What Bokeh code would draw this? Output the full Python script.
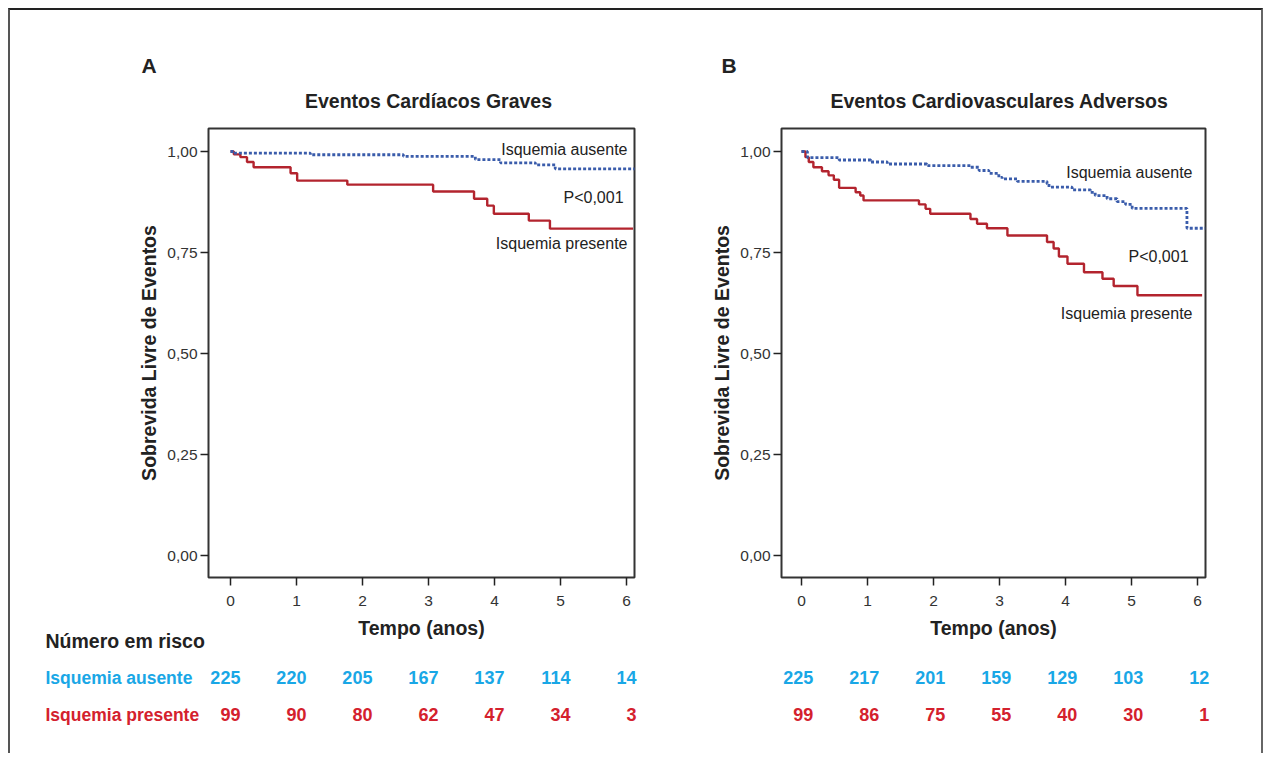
from bokeh.plotting import figure
from bokeh.layouts import row, column
from bokeh.models import (Label, ColumnDataSource, FixedTicker,
                          CustomJSTickFormatter, Range1d)
from bokeh.core.properties import value
from bokeh.embed import file_html
from bokeh.resources import INLINE

# ---------------- data ----------------
years = [0, 1, 2, 3, 4, 5, 6]

# Panel A - Eventos Cardiacos Graves
a_aus_t = [0, 0.05, 1.21, 2.62, 3.71, 4.09, 4.62, 4.92, 6.14]
a_aus_s = [1.0, 0.996, 0.992, 0.988, 0.980, 0.972, 0.967, 0.957, 0.957]
a_pres_t = [0, 0.05, 0.15, 0.25, 0.35, 0.91, 1.01, 1.77, 3.07, 3.69, 3.89,
            3.99, 4.52, 4.84, 6.10]
a_pres_s = [1.0, 0.993, 0.986, 0.974, 0.961, 0.946, 0.928, 0.918, 0.901,
            0.883, 0.866, 0.846, 0.829, 0.809, 0.809]

# Panel B - Eventos Cardiovasculares Adversos
b_aus_t = [0, 0.09, 0.57, 1.05, 1.30, 1.90, 2.56, 2.69, 2.84, 2.99, 3.04,
           3.27, 3.72, 3.75, 4.10, 4.38, 4.45, 4.63, 4.78, 4.91, 5.01, 5.84,
           6.12]
b_aus_s = [1.0, 0.985, 0.979, 0.974, 0.969, 0.965, 0.961, 0.953, 0.946,
           0.936, 0.932, 0.926, 0.920, 0.912, 0.905, 0.899, 0.891, 0.883,
           0.876, 0.869, 0.859, 0.810, 0.810]
b_pres_t = [0, 0.06, 0.11, 0.18, 0.31, 0.41, 0.49, 0.57, 0.82, 0.89, 0.94,
            1.78, 1.88, 1.95, 2.56, 2.66, 2.81, 3.12, 3.72, 3.82, 3.90, 4.03,
            4.28, 4.56, 4.73, 5.09, 6.07]
b_pres_s = [1.0, 0.986, 0.974, 0.961, 0.951, 0.941, 0.930, 0.910, 0.899,
            0.891, 0.879, 0.869, 0.858, 0.846, 0.833, 0.821, 0.810, 0.792,
            0.776, 0.760, 0.740, 0.722, 0.701, 0.685, 0.667, 0.644, 0.644]

# Numero em risco
risk_a_aus = [225, 220, 205, 167, 137, 114, 14]
risk_a_pres = [99, 90, 80, 62, 47, 34, 3]
risk_b_aus = [225, 217, 201, 159, 129, 103, 12]
risk_b_pres = [99, 86, 75, 55, 40, 30, 1]

y_ticks = [0, 0.25, 0.5, 0.75, 1.0]

# ---------------- style ----------------
BLUE_LINE = "#3a5cab"
RED_LINE = "#b3242e"
BLUE_TXT = "#19a7e6"
RED_TXT = "#d4212d"
INK = "#222222"
FONT = "Liberation Sans"

PX_YEAR = 66.0      # px per year
PX_S = 404.0        # px per unit survival
ORIGIN = 10         # page offset of content (margin + border)
HEAD_END = 118      # page y where the plot figures start
PLOT_END = 644      # page y where the plot figures end
TAB_START = 630     # page y where the risk table starts (overlaps)
BOTTOM = 753
ROW0 = 640          # page y of the first table row
ROW_PX = 37.0       # px between table rows


def s_at(py):
    # survival value at a vertical page position (S = 1 at y = 151)
    return 1.0 - (py - 151.0) / PX_S


def year_range(width, x0_page, tick0_page):
    xs = -(tick0_page - x0_page) / PX_YEAR
    return Range1d(xs, xs + width / PX_YEAR)


def blank(fig):
    fig.axis.visible = False
    fig.grid.visible = False
    fig.outline_line_color = None
    fig.background_fill_color = None
    fig.border_fill_color = None


def make_header(width, x0_page, tick0_page, letter, title, letter_x):
    h = figure(width=width, height=HEAD_END - ORIGIN,
               x_range=year_range(width, x0_page, tick0_page),
               y_range=Range1d(HEAD_END, ORIGIN),
               output_backend="svg", toolbar_location=None, min_border=0)
    blank(h)
    h.text(x=[letter_x], y=[65], text=[letter], text_font=value(FONT),
           text_font_size="21px", text_font_style="bold", text_color=INK,
           text_align="left", text_baseline="middle")
    h.text(x=[3], y=[100], text=[title], text_font=value(FONT),
           text_font_size="19.5px", text_font_style="bold", text_color=INK,
           text_align="center", text_baseline="middle")
    return h


def make_panel(aus_t, aus_s, pres_t, pres_s, width, left, right, left_gap,
               ann_x, ann_y):
    height = PLOT_END - HEAD_END
    top = 128 - HEAD_END
    p = figure(width=width, height=height,
               x_range=Range1d(-left_gap / PX_YEAR, 6 + 8.0 / PX_YEAR),
               y_range=Range1d(s_at(577), s_at(128)),
               output_backend="svg", toolbar_location=None,
               min_border_left=left, min_border_right=right,
               min_border_top=top, min_border_bottom=height - top - 449)
    p.background_fill_color = "white"
    p.border_fill_color = "white"
    p.outline_line_color = "#333333"
    p.outline_line_width = 2
    p.grid.visible = False

    for ax in (p.xaxis, p.yaxis):
        ax.axis_line_color = None
        ax.major_tick_line_color = INK
        ax.major_tick_line_width = 1.5
        ax.major_tick_out = 8
        ax.major_tick_in = 0
        ax.minor_tick_line_color = None
        ax.major_label_text_font = FONT
        ax.major_label_text_font_size = "15.5px"
        ax.major_label_text_color = "#333333"
        ax.axis_label_text_font = FONT
        ax.axis_label_text_font_size = "19.5px"
        ax.axis_label_text_font_style = "bold"
        ax.axis_label_text_color = INK

    p.xaxis.ticker = FixedTicker(ticks=years)
    p.xaxis.axis_label = "Tempo (anos)"
    p.xaxis.major_label_standoff = 10
    p.xaxis.axis_label_standoff = 8
    p.yaxis.ticker = FixedTicker(ticks=y_ticks)
    p.yaxis.formatter = CustomJSTickFormatter(
        code="return tick.toFixed(2).replace('.', ',')")
    p.yaxis.axis_label = "Sobrevida Livre de Eventos"
    p.yaxis.major_label_standoff = 3
    p.yaxis.axis_label_standoff = 4

    # curves
    p.step(pres_t, pres_s, mode="after", line_color=RED_LINE, line_width=2.4)
    p.step(aus_t, aus_s, mode="after", line_color=BLUE_LINE, line_width=2.8,
           line_dash="3 2")

    # in-plot annotations
    for txt, py in zip(["Isquemia ausente", "P<0,001", "Isquemia presente"],
                       ann_y):
        xr = ann_x - (0.06 if txt.startswith("P") else 0)
        p.add_layout(Label(x=xr, y=s_at(py), text=txt, text_font=FONT,
                           text_font_size="16px", text_color=INK,
                           text_align="right", text_baseline="middle"))
    return p


def make_table(width, x0_page, tick0_page, r_aus, r_pres, num_off,
               row_labels):
    top = (TAB_START - ROW0) / ROW_PX
    bot = (BOTTOM - ROW0) / ROW_PX
    t = figure(width=width, height=BOTTOM - TAB_START,
               x_range=year_range(width, x0_page, tick0_page),
               y_range=Range1d(bot, top),
               output_backend="svg", toolbar_location=None, min_border=0)
    blank(t)

    src = ColumnDataSource(dict(
        x=[yr + num_off for yr in years] * 2,
        y=[1] * len(years) + [2] * len(years),
        text=[str(v) for v in r_aus] + [str(v) for v in r_pres],
        color=[BLUE_TXT] * len(years) + [RED_TXT] * len(years)))
    t.text(x="x", y="y", text="text", source=src, text_color="color",
           text_font=value(FONT), text_font_size="18px",
           text_font_style="bold", text_align="right",
           text_baseline="middle")
    if row_labels:
        lx = (45 - tick0_page) / PX_YEAR
        t.text(x=[lx], y=[0], text=["Número em risco"],
               text_font=value(FONT), text_font_size="19.5px",
               text_font_style="bold", text_color=INK,
               text_align="left", text_baseline="middle")
        t.text(x=[lx, lx], y=[1, 2],
               text=["Isquemia ausente", "Isquemia presente"],
               text_color=[BLUE_TXT, RED_TXT],
               text_font=value(FONT), text_font_size="17.5px",
               text_font_style="bold", text_align="left",
               text_baseline="middle")
    return t


WA, WB = 640 - ORIGIN, 621

ha = make_header(WA, ORIGIN, 230, "A", "Eventos Cardíacos Graves",
                 (141 - 230) / PX_YEAR)
hb = make_header(WB, 640, 801, "B", "Eventos Cardiovasculares Adversos",
                 (721 - 801) / PX_YEAR)

pa = make_panel(a_aus_t, a_aus_s, a_pres_t, a_pres_s, width=WA,
                left=208 - ORIGIN, right=6, left_gap=22.0,
                ann_x=(627 - 230) / PX_YEAR, ann_y=[149, 197, 243])
pb = make_panel(b_aus_t, b_aus_s, b_pres_t, b_pres_s, width=WB,
                left=141, right=56, left_gap=20.0,
                ann_x=(1192 - 801) / PX_YEAR, ann_y=[172, 256, 313])

ta = make_table(WA, ORIGIN, 230, risk_a_aus, risk_a_pres, 0.15, True)
tb = make_table(WB, 640, 801, risk_b_aus, risk_b_pres, 0.18, False)

layout = column(row(ha, hb), row(pa, pb),
                row(ta, tb,
                    styles={"margin-top": f"{TAB_START - PLOT_END}px"}),
                styles={"margin-left": "8px", "margin-top": "8px",
                        "border-top": "2px solid #222",
                        "border-left": "2px solid #555",
                        "border-right": "2px solid #666"})

open("out.html", "w").write(file_html(layout, INLINE))
